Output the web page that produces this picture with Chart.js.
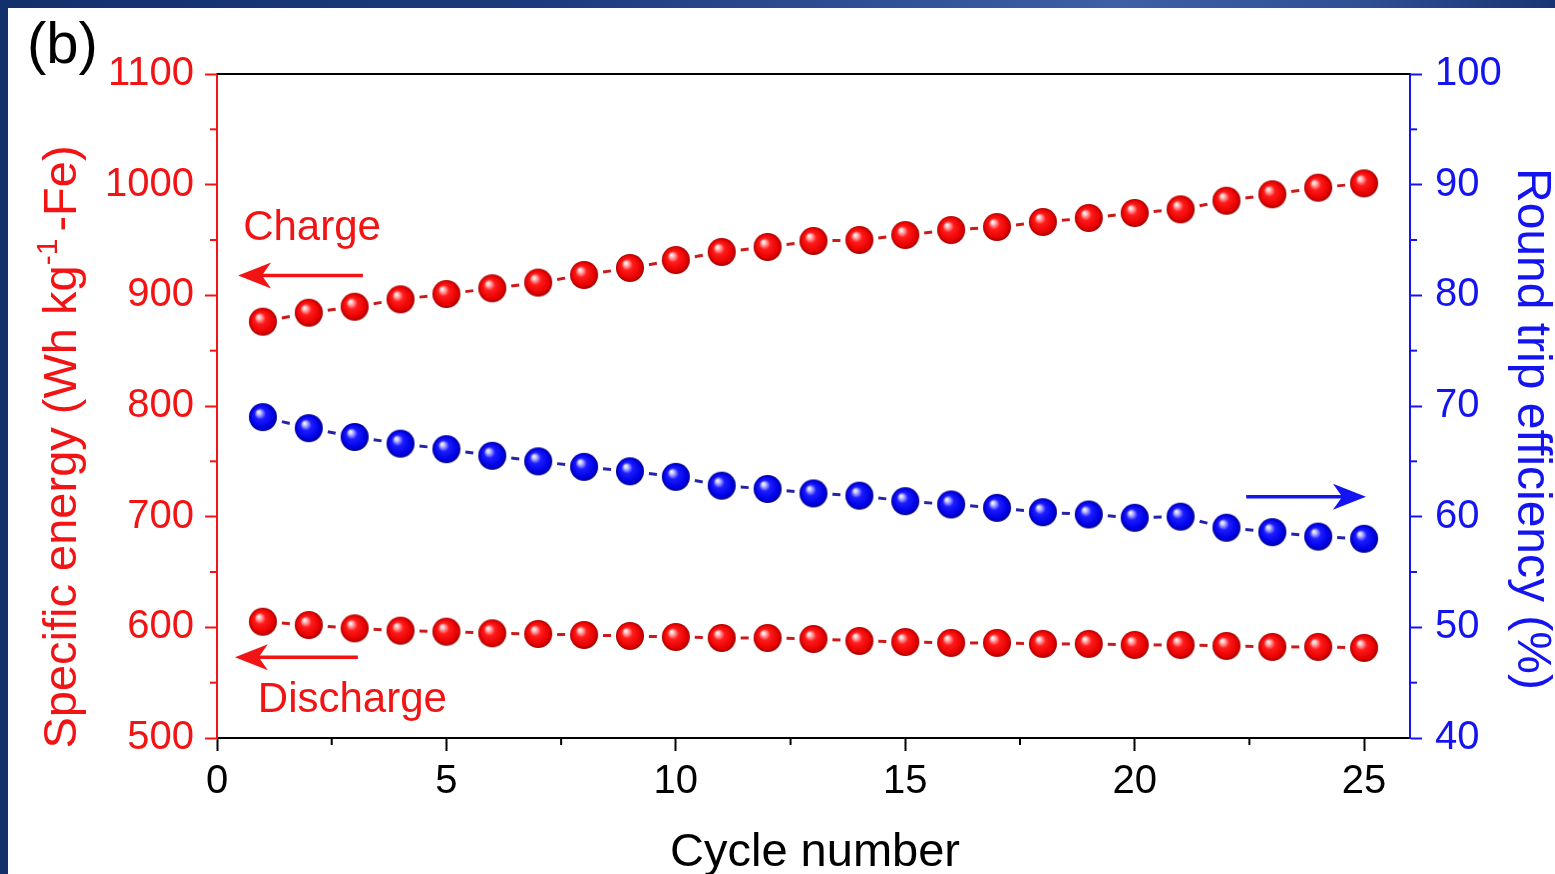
<!DOCTYPE html>
<html>
<head>
<meta charset="utf-8">
<script src="https://cdn.jsdelivr.net/npm/chart.js@4.4.1/dist/chart.umd.min.js"></script>
<style>
  html, body { margin: 0; padding: 0; background: #fff; }
  canvas { display: block; }
</style>
</head>
<body>
<canvas id="cv" width="1555" height="874"></canvas>
<script>
// Cycle index and measured values
const cycles = [1,2,3,4,5,6,7,8,9,10,11,12,13,14,15,16,17,18,19,20,21,22,23,24,25];
const chargeEnergy = [876.2,884.3,889.7,896.4,901.2,906.4,911.5,918.4,924.7,931.9,939.2,943.7,949.1,950.0,954.5,959.0,961.7,966.3,969.9,974.4,977.7,985.5,991.3,997.3,1001.2];
const dischargeEnergy = [605.1,602.1,599.1,597.0,596.1,594.6,594.0,593.1,592.2,591.3,590.4,590.4,589.5,587.7,586.8,585.9,585.9,585.0,585.0,584.1,584.1,583.2,582.3,582.3,581.4];
const roundTripEff = [69.0,68.0,67.2,66.6,66.1,65.5,65.0,64.5,64.1,63.6,62.8,62.5,62.1,61.9,61.4,61.1,60.8,60.4,60.2,59.9,60.0,59.0,58.6,58.2,58.0];

// Tick labels
const xTicks = [0, 5, 10, 15, 20, 25];
const xMinorTicks = [2.5, 7.5, 12.5, 17.5, 22.5];
const energyTicks = [500, 600, 700, 800, 900, 1000, 1100];
const energyMinorTicks = [550, 650, 750, 850, 950, 1050];
const effTicks = [40, 50, 60, 70, 80, 90, 100];
const effMinorTicks = [45, 55, 65, 75, 85, 95];

const RED = '#f21414';
const BLUE = '#1414f0';
const FONT = '"Liberation Sans", Arial, sans-serif';

// Shaded sphere sprite used as the marker
function makeSphere(light, mid, dark, edge) {
  const r = 14, c = document.createElement('canvas');
  c.width = c.height = 2 * r + 2;
  const g = c.getContext('2d');
  const cx = r + 1, cy = r + 1;
  const grad = g.createRadialGradient(cx - r * 0.33, cy - r * 0.38, 0, cx, cy, r);
  grad.addColorStop(0, '#ffffff');
  grad.addColorStop(0.14, light);
  grad.addColorStop(0.4, mid);
  grad.addColorStop(0.82, dark);
  grad.addColorStop(1, edge);
  g.fillStyle = grad;
  g.beginPath(); g.arc(cx, cy, r, 0, Math.PI * 2); g.fill();
  return c;
}
const redBall = makeSphere('#ffc4c4', '#ff1c1c', '#e80000', '#a00000');
const blueBall = makeSphere('#c8c8ff', '#1c1cff', '#0000e6', '#00008c');

// One short dash centred between neighbouring markers
const DASH = 8;
const segLen = ctx => Math.hypot(ctx.p1.x - ctx.p0.x, ctx.p1.y - ctx.p0.y);
const dashedSegment = {
  borderDash: ctx => [DASH, Math.max(segLen(ctx) - DASH, 1)],
  borderDashOffset: ctx => -(segLen(ctx) - DASH) / 2
};

function series(values) { return cycles.map((c, i) => ({ x: c, y: values[i] })); }

// Text labels and arrows, in data units
const notes = [
  { text: 'Charge', x: 0.57, y: 950, axis: 'y', color: RED },
  { text: 'Discharge', x: 0.89, y: 523.5, axis: 'y', color: RED }
];
const arrows = [
  { from: 3.18, to: 0.46, y: 918, axis: 'y', color: RED },
  { from: 3.07, to: 0.39, y: 573, axis: 'y', color: RED },
  { from: 22.43, to: 25.04, y: 61.8, axis: 'y1', color: BLUE }
];

function drawArrow(ctx, x0, x1, y, color) {
  const dir = Math.sign(x1 - x0);
  const headLen = 33, halfW = 13;
  ctx.save();
  ctx.strokeStyle = color; ctx.fillStyle = color; ctx.lineWidth = 3.5;
  ctx.beginPath(); ctx.moveTo(x0, y); ctx.lineTo(x1 - dir * headLen * 0.6, y); ctx.stroke();
  ctx.beginPath();
  ctx.moveTo(x1, y);
  ctx.lineTo(x1 - dir * headLen, y - halfW);
  ctx.lineTo(x1 - dir * headLen * 0.72, y);
  ctx.lineTo(x1 - dir * headLen, y + halfW);
  ctx.closePath(); ctx.fill();
  ctx.restore();
}

const decor = {
  id: 'decor',
  beforeDraw(chart) {
    const { ctx, width, height } = chart;
    ctx.save();
    ctx.fillStyle = '#ffffff';
    ctx.fillRect(0, 0, width, height);
    const g = ctx.createLinearGradient(0, 0, width, 0);
    g.addColorStop(0, '#12306c');
    g.addColorStop(0.35, '#1c3b7c');
    g.addColorStop(0.72, '#3d60a6');
    g.addColorStop(0.88, '#2f4f93');
    g.addColorStop(1, '#183573');
    ctx.fillStyle = g;
    ctx.fillRect(0, 0, width, 8);
    ctx.fillStyle = '#12306c';
    ctx.fillRect(0, 0, 8, height);
    ctx.restore();
  },
  afterDraw(chart) {
    const { ctx, chartArea: a, scales } = chart;
    const xs = scales.x, ys = scales.y, y1 = scales.y1;
    ctx.save();
    // top frame line
    ctx.strokeStyle = '#000'; ctx.lineWidth = 2;
    ctx.beginPath(); ctx.moveTo(a.left, a.top); ctx.lineTo(a.right, a.top); ctx.stroke();

    // minor ticks
    ctx.lineWidth = 2;
    ctx.strokeStyle = '#000';
    xMinorTicks.forEach(v => { const p = xs.getPixelForValue(v); ctx.beginPath(); ctx.moveTo(p, a.bottom); ctx.lineTo(p, a.bottom + 7); ctx.stroke(); });
    ctx.strokeStyle = RED;
    energyMinorTicks.forEach(v => { const p = ys.getPixelForValue(v); ctx.beginPath(); ctx.moveTo(a.left - 7, p); ctx.lineTo(a.left, p); ctx.stroke(); });
    ctx.strokeStyle = BLUE;
    effMinorTicks.forEach(v => { const p = y1.getPixelForValue(v); ctx.beginPath(); ctx.moveTo(a.right, p); ctx.lineTo(a.right + 7, p); ctx.stroke(); });

    // panel letter
    ctx.fillStyle = '#000';
    ctx.font = `58px ${FONT}`;
    ctx.textAlign = 'left'; ctx.textBaseline = 'alphabetic';
    ctx.fillText('(b)', 27, 63);

    // x title
    ctx.font = `47px ${FONT}`;
    ctx.textAlign = 'center';
    ctx.fillText('Cycle number', 815, 866);

    // left title with superscript
    ctx.save();
    ctx.translate(76, 444);
    ctx.rotate(-Math.PI / 2);
    ctx.fillStyle = RED;
    ctx.textAlign = 'left';
    const big = `47px ${FONT}`, small = `30px ${FONT}`;
    const p1 = 'Specific energy (Wh kg', sup = '-1', p2 = ' -Fe)';
    ctx.font = big; const w1 = ctx.measureText(p1).width, w2 = ctx.measureText(p2).width;
    ctx.font = small; const ws = ctx.measureText(sup).width;
    let x = -(w1 + ws + w2) / 2;
    ctx.font = big; ctx.fillText(p1, x, 0); x += w1;
    ctx.font = small; ctx.fillText(sup, x, -19); x += ws;
    ctx.font = big; ctx.fillText(p2, x - 6, 0);
    ctx.restore();

    // right title
    ctx.save();
    ctx.translate(1518, 429);
    ctx.rotate(Math.PI / 2);
    ctx.fillStyle = BLUE;
    ctx.font = `48px ${FONT}`;
    ctx.textAlign = 'center';
    ctx.fillText('Round trip efficiency (%)', 0, 0);
    ctx.restore();

    // notes and arrows
    ctx.font = `42px ${FONT}`;
    ctx.textAlign = 'left';
    notes.forEach(n => {
      ctx.fillStyle = n.color;
      ctx.fillText(n.text, xs.getPixelForValue(n.x), scales[n.axis].getPixelForValue(n.y));
    });
    arrows.forEach(ar => {
      drawArrow(ctx, xs.getPixelForValue(ar.from), xs.getPixelForValue(ar.to), scales[ar.axis].getPixelForValue(ar.y), ar.color);
    });
    ctx.restore();
  }
};

const fixedTicks = list => scale => { scale.ticks = list.map(v => ({ value: v })); };
const plain = v => String(v);

new Chart(document.getElementById('cv'), {
  type: 'line',
  data: {
    datasets: [
      {
        label: 'Charge', data: series(chargeEnergy), yAxisID: 'y',
        borderColor: '#cc1a1a', borderWidth: 3, pointStyle: redBall, pointRadius: 14,
        segment: dashedSegment
      },
      {
        label: 'Discharge', data: series(dischargeEnergy), yAxisID: 'y',
        borderColor: '#cc1a1a', borderWidth: 3, pointStyle: redBall, pointRadius: 14,
        segment: dashedSegment
      },
      {
        label: 'Round trip efficiency', data: series(roundTripEff), yAxisID: 'y1',
        borderColor: '#2424a8', borderWidth: 3, pointStyle: blueBall, pointRadius: 14,
        segment: dashedSegment
      }
    ]
  },
  options: {
    responsive: false,
    devicePixelRatio: 1,
    animation: false,
    events: [],
    layout: { padding: { top: 74, left: 0, right: 0, bottom: 0 } },
    plugins: { legend: { display: false }, tooltip: { enabled: false } },
    scales: {
      x: {
        type: 'linear', min: 0, max: 26,
        afterBuildTicks: fixedTicks(xTicks),
        afterFit: s => { s.height = 136; },
        border: { color: '#000', width: 2 },
        grid: { drawOnChartArea: false, drawTicks: true, tickLength: 13, tickColor: '#000', tickWidth: 2 },
        ticks: { color: '#000', font: { family: FONT, size: 40 }, padding: 7, maxRotation: 0, callback: plain }
      },
      y: {
        type: 'linear', position: 'left', min: 500, max: 1100,
        afterBuildTicks: fixedTicks(energyTicks),
        afterFit: s => { s.width = 217; },
        border: { color: RED, width: 2 },
        grid: { drawOnChartArea: false, drawTicks: true, tickLength: 12, tickColor: RED, tickWidth: 2 },
        ticks: { color: RED, font: { family: FONT, size: 40 }, padding: 11, callback: plain }
      },
      y1: {
        type: 'linear', position: 'right', min: 40, max: 100,
        afterBuildTicks: fixedTicks(effTicks),
        afterFit: s => { s.width = 145; },
        border: { color: BLUE, width: 2 },
        grid: { drawOnChartArea: false, drawTicks: true, tickLength: 12, tickColor: BLUE, tickWidth: 2 },
        ticks: { color: BLUE, font: { family: FONT, size: 40 }, padding: 13, callback: plain }
      }
    }
  },
  plugins: [decor]
});
</script>
</body>
</html>
